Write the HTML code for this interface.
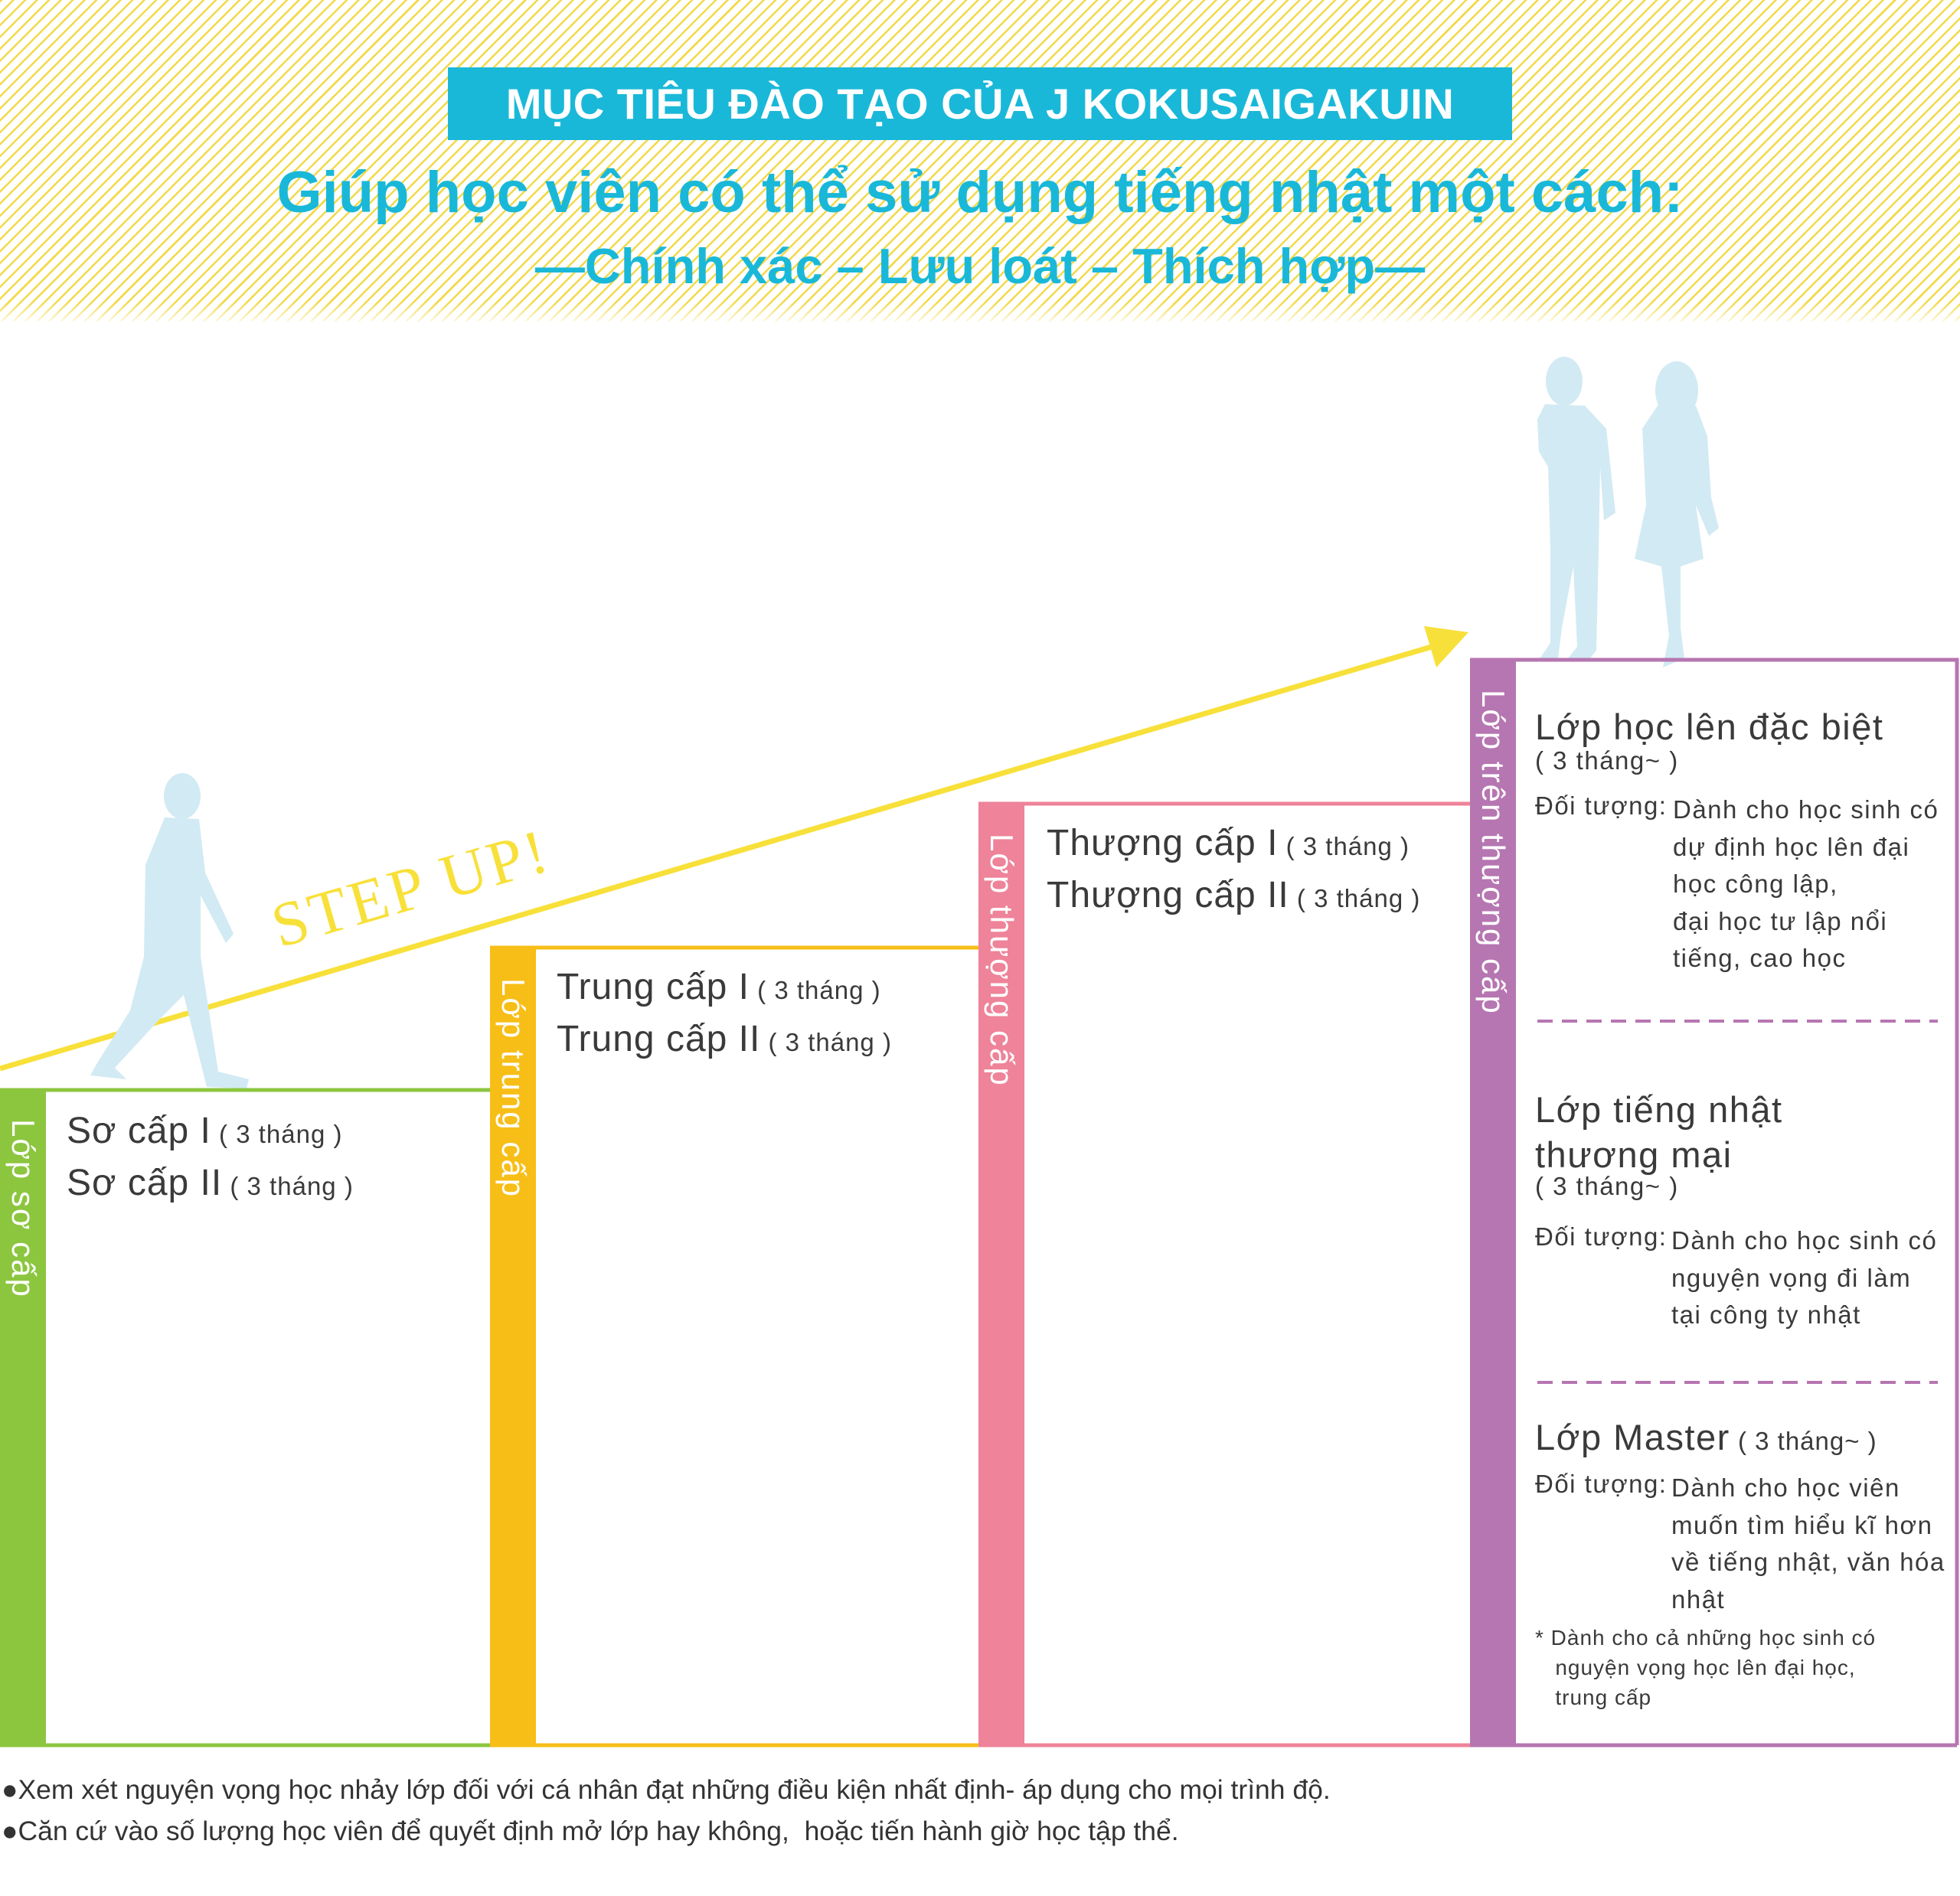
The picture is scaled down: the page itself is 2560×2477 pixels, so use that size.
<!DOCTYPE html>
<html><head><meta charset="utf-8"><style>
*{margin:0;padding:0;box-sizing:border-box}
body{width:2560px;height:2477px;position:relative;background:#fff;font-family:"Liberation Sans",sans-serif;overflow:hidden;color:#3a3a3a}
.hdr{position:absolute;left:0;top:0;width:2560px;height:420px;background:repeating-linear-gradient(135deg,#f3d94a 0 2.5px,#fff 2.5px 11px)}
.fade{position:absolute;left:0;top:395px;width:2560px;height:30px;background:linear-gradient(rgba(255,255,255,0),#fff)}
.banner{position:absolute;left:585px;top:88px;width:1390px;height:95px;background:#1ab8d8;color:#fff;font-weight:bold;font-size:56px;text-align:center;line-height:95px;letter-spacing:0.5px}
.t1{position:absolute;left:0;width:2560px;text-align:center;color:#1ab8d8;font-weight:bold}
.a{position:absolute;white-space:nowrap}
.bar{position:absolute;width:60px}
.vl{position:absolute;color:#fff;font-size:42px;letter-spacing:2px;transform-origin:0 0;transform:rotate(90deg);white-space:nowrap}
.big{font-size:48px;letter-spacing:1px}
.sm{font-size:33px;letter-spacing:1px}
.p{font-size:33px;letter-spacing:1.5px}
.h{font-size:47px;letter-spacing:1.5px}
</style></head><body>
<div class="hdr"></div><div class="fade"></div>
<div class="banner">MỤC TIÊU ĐÀO TẠO CỦA J KOKUSAIGAKUIN</div>
<div class="t1" style="top:208px;font-size:76px">Giúp học viên có thể sử dụng tiếng nhật một cách:</div>
<div class="t1" style="top:310px;font-size:65px">—Chính xác – Lưu loát – Thích hợp—</div>

<svg style="position:absolute;left:0;top:0" width="2560" height="2477">
<line x1="0" y1="1396" x2="1880" y2="842" stroke="#f8e03a" stroke-width="7"/>
<polygon points="1918,826 1860,818 1876,872" fill="#f8e03a"/>
<text x="0" y="0" transform="translate(365,1238) rotate(-16)" font-family="Liberation Serif" font-size="82" fill="#f8e03a" letter-spacing="4">STEP UP!</text>
<g fill="#d2eaf3">
<ellipse cx="238" cy="1040" rx="24" ry="30"/>
<path d="M215,1068 L260,1070 L268,1140 L305,1220 L295,1232 L262,1170 L262,1250 L285,1400 L325,1410 L322,1422 L270,1420 L240,1300 L210,1330 L150,1395 L165,1410 L118,1405 L125,1392 L170,1320 L188,1250 L190,1130 Z"/>
</g>
<g fill="#d2eaf3">
<ellipse cx="2043" cy="498" rx="24" ry="32"/>
<path d="M2018,528 L2070,530 L2098,560 L2110,670 L2095,680 L2090,610 L2088,720 L2085,850 L2075,862 L2048,860 L2060,845 L2055,740 L2040,820 L2035,860 L2010,862 L2025,840 L2025,720 L2022,610 L2010,590 L2008,548 Z"/>
<ellipse cx="2190" cy="510" rx="28" ry="38"/>
<path d="M2165,530 L2215,530 L2230,570 L2235,650 L2245,690 L2232,700 L2215,660 L2225,730 L2195,740 L2195,820 L2200,860 L2172,872 L2180,830 L2170,740 L2135,730 L2150,660 L2145,560 Z"/>
</g>
<g fill="none" stroke-width="5">
<path d="M0,1424 H640" stroke="#8cc63f"/>
<path d="M640,1238 H1278" stroke="#f7be17"/>
<path d="M1278,1050 H1920" stroke="#ee8399"/>
<path d="M1920,862 H2556 V2280" stroke="#b676b1"/>
<path d="M0,2280 H640" stroke="#8cc63f"/>
<path d="M640,2280 H1278" stroke="#f7be17"/>
<path d="M1278,2280 H1920" stroke="#ee8399"/>
<path d="M1920,2280 H2556" stroke="#b676b1"/>
<path d="M2008,1334 H2531 M2008,1806 H2531" stroke="#b676b1" stroke-width="4" stroke-dasharray="20,12"/>
</g>
</svg>

<div class="bar" style="left:0;top:1422px;height:860px;background:#8cc63f"></div>
<div class="bar" style="left:640px;top:1236px;height:1046px;background:#f7be17"></div>
<div class="bar" style="left:1278px;top:1048px;height:1234px;background:#ee8399"></div>
<div class="bar" style="left:1920px;top:860px;height:1422px;background:#b676b1"></div>
<div class="vl" style="left:54px;top:1462px">Lớp sơ cấp</div>
<div class="vl" style="left:694px;top:1278px">Lớp trung cấp</div>
<div class="vl" style="left:1332px;top:1089px">Lớp thượng cấp</div>
<div class="vl" style="left:1974px;top:901px">Lớp trên thượng cấp</div>

<div class="a big" style="left:87px;top:1450px">Sơ cấp I<span class="sm"> ( 3 tháng )</span></div>
<div class="a big" style="left:87px;top:1518px">Sơ cấp II<span class="sm"> ( 3 tháng )</span></div>
<div class="a big" style="left:727px;top:1262px">Trung cấp I<span class="sm"> ( 3 tháng )</span></div>
<div class="a big" style="left:727px;top:1330px">Trung cấp II<span class="sm"> ( 3 tháng )</span></div>
<div class="a big" style="left:1367px;top:1074px">Thượng cấp I<span class="sm"> ( 3 tháng )</span></div>
<div class="a big" style="left:1367px;top:1142px">Thượng cấp II<span class="sm"> ( 3 tháng )</span></div>

<div class="a h" style="left:2005px;top:922px">Lớp học lên đặc biệt</div>
<div class="a p" style="left:2005px;top:975px">( 3 tháng~ )</div>
<div class="a p" style="left:2005px;top:1034px">Đối tượng:</div>
<div class="a p" style="left:2185px;top:1034px;line-height:48.5px">Dành cho học sinh có<br>dự định học lên đại<br>học công lập,<br>đại học tư lập nổi<br>tiếng, cao học</div>
<div class="a h" style="left:2005px;top:1420px;line-height:59px">Lớp tiếng nhật<br>thương mại</div>
<div class="a p" style="left:2005px;top:1531px">( 3 tháng~ )</div>
<div class="a p" style="left:2005px;top:1597px">Đối tượng:</div>
<div class="a p" style="left:2183px;top:1597px;line-height:48.5px">Dành cho học sinh có<br>nguyện vọng đi làm<br>tại công ty nhật</div>
<div class="a h" style="left:2005px;top:1850px">Lớp Master<span class="sm"> ( 3 tháng~ )</span></div>
<div class="a p" style="left:2005px;top:1920px">Đối tượng:</div>
<div class="a p" style="left:2183px;top:1920px;line-height:48.5px">Dành cho học viên<br>muốn tìm hiểu kĩ hơn<br>về tiếng nhật, văn hóa<br>nhật</div>
<div class="a" style="left:2005px;top:2120px;font-size:28px;line-height:39px;letter-spacing:1px">* Dành cho cả những học sinh có<br>&nbsp;&nbsp;&nbsp;nguyện vọng học lên đại học,<br>&nbsp;&nbsp;&nbsp;trung cấp</div>

<div class="a" style="left:2px;top:2318px;font-size:35.5px;color:#333">●Xem xét nguyện vọng học nhảy lớp đối với cá nhân đạt những điều kiện nhất định- áp dụng cho mọi trình độ.</div>
<div class="a" style="left:2px;top:2372px;font-size:35.5px;color:#333">●Căn cứ vào số lượng học viên để quyết định mở lớp hay không,&nbsp; hoặc tiến hành giờ học tập thể.</div>
</body></html>
